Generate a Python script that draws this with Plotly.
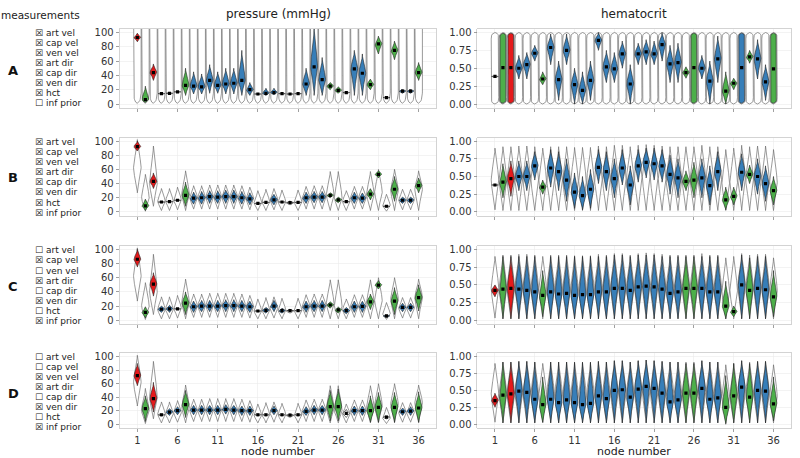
import numpy as np
import plotly.graph_objects as go

# ---------------- data ----------------
nodes = list(range(1, 37))
tick_nodes = [1, 6, 11, 16, 21, 26, 31, 36]
p_ticks = [0, 20, 40, 60, 80, 100]
h_ticks = [0.0, 0.25, 0.5, 0.75, 1.0]
h_tick_text = ["0.00", "0.25", "0.50", "0.75", "1.00"]

row_labels = ["A", "B", "C", "D"]
measure_names = ["art vel", "cap vel", "ven vel", "art dir", "cap dir", "ven dir", "hct", "inf prior"]
checks_A = [1, 1, 1, 1, 1, 1, 1, 0]
checks_B = [1, 1, 1, 1, 1, 1, 1, 1]
checks_C = [0, 1, 0, 1, 0, 1, 0, 1]
checks_D = [0, 0, 1, 1, 0, 1, 0, 1]

# colour code per node: R red, G green, B blue, W white
pA_col = "RGRWWWGBBBBBBBBWBBWWWBBBGGWBBGGWGBBG"
pB_col = "RGRWWWGBBBBBBBBWWBWWWBBBGGWBBGGWGBBG"
pC_col = "RGRBBWGBBBBBBBBWBBBWWBBBGGBBBGGBGBBG"
pD_col = "RGRWBBGBBBBBBBBWWBWWWBBBGGWBBGGWGBBG"
hA_col = "WGRBBBGBBBBBBBBBBBBBBBBBGGBBBGGBGBBG"
hB_col = "WGRBBBGBBBBBBBBBBBBBBBBBGGBBBGGBGBBG"
hC_col = "RGRBBBGBBBBBBBBBBBBBBBBBGGBBBGGBGBBG"
hD_col = "RGRBBBGBBBBBBBBBBBBBBBBBGGBBBGGBGBBG"

# pressure posteriors (median, lower, upper) in mmHg
pA_med = [93, 6, 44, 14.5, 15, 17, 26, 25, 24, 33, 26, 28, 29, 33, 20, 14, 15, 16, 14.5, 14, 14.5, 28, 52, 34, 25, 19, 16, 49, 43, 27, 84, 9, 75, 18, 18, 44]
pA_lo = [87, 2, 33, 13.5, 14, 16, 12, 14, 14, 15, 15, 14, 14, 12, 12, 13, 12, 13, 13.5, 13.5, 13.5, 12, 12, 12, 20, 15, 15, 12, 12, 20, 70, 8, 62, 15, 15, 33]
pA_hi = [99, 25, 56, 15.5, 16, 18, 50, 45, 42, 55, 45, 50, 50, 75, 30, 15, 22, 22, 15.5, 14.5, 15.5, 50, 110, 65, 30, 24, 17, 75, 70, 35, 95, 10, 88, 21, 21, 58]

pB_med = [92, 8.5, 43, 14, 14.5, 16.5, 23.5, 19.5, 20, 21.5, 21, 21.5, 21.5, 20, 18.5, 12, 13.5, 17, 14, 13, 13.5, 20, 21, 21, 23.5, 17, 14.5, 20, 19.5, 25, 53, 8, 32, 16.5, 16.5, 37]
pB_lo = [86, 2, 33, 13, 13.5, 15.5, 8, 11, 11, 12, 12, 12, 12, 11, 10, 11, 12.5, 10, 13, 12.5, 12.5, 12, 13, 13, 20, 13, 13.5, 12, 12, 17, 48, 7, 15, 12, 12, 27]
pB_hi = [100, 18, 55, 15, 15.5, 17.5, 42, 28, 29, 30, 30, 31, 31, 29, 27, 13, 14.5, 25, 15, 13.5, 14.5, 28, 29, 29, 27, 21, 15.5, 28, 27, 33, 58, 9, 50, 21, 21, 48]

pC_med = [86, 11, 51, 15.5, 16, 16, 24, 19, 20, 20, 20, 20.5, 20.5, 20, 19, 13, 14, 20, 13.5, 13.5, 13.5, 19, 20, 20, 21.5, 14.5, 13.5, 19, 19.5, 26, 49.5, 6, 27, 18, 18, 32]
pC_lo = [75, 3, 34, 11, 11, 15, 8, 11, 12, 12, 12, 12, 12, 12, 11, 12, 10, 12, 10, 13, 12.5, 11, 12, 12, 17, 10, 9, 11, 11, 15, 44, 4, 8, 12, 12, 13]
pC_hi = [100, 19, 67, 20, 21, 17, 40, 27, 28, 28, 28, 29, 29, 28, 27, 14, 18, 28, 17, 14, 14.5, 27, 28, 28, 26, 19, 18, 27, 27, 37, 56, 8, 46, 24, 24, 50]

pD_med = [72, 23, 38, 14, 18, 20, 29, 21, 21, 21, 21, 22, 21, 20, 20, 14, 14, 20, 14, 13.5, 14, 19, 21, 21, 26, 26, 16, 20, 20, 20, 25, 10.5, 25, 18.5, 19.5, 24]
pD_lo = [57, 4, 18, 12, 13, 14, 10, 14, 14, 14, 14, 15, 14, 13, 13, 12, 12, 14, 12, 13, 12, 13, 14, 14, 5, 5, 10, 13, 13, 3, 3, 8, 3, 13, 13, 3]
pD_hi = [90, 42, 62, 16, 23, 26, 50, 28, 28, 28, 28, 29, 28, 27, 27, 16, 16, 27, 16, 14, 16, 26, 28, 28, 50, 52, 22, 27, 27, 42, 47, 13, 47, 24, 26, 48]

# inferred pressure prior (rows B-D)
p_inf_med = [62, 20, 40, 15, 15, 17, 25, 20, 20, 21, 21, 21, 21, 20, 19, 13, 14, 17, 14, 13, 14, 20, 21, 21, 24, 20, 15, 20, 20, 25, 28, 9, 30, 17, 17, 32]
p_inf_lo = [27, 1, 8, 2, 2, 3, 2, 4, 4, 4, 4, 4, 4, 4, 3, 2, 2, 3, 2, 10, 2, 4, 4, 4, 2, 2, 2, 4, 4, 2, 2, 1, 2, 3, 3, 2]
p_inf_hi = [102, 53, 93, 33, 33, 35, 58, 37, 37, 38, 38, 38, 38, 37, 35, 30, 32, 33, 31, 16, 31, 36, 37, 37, 57, 57, 30, 36, 36, 57, 60, 25, 60, 32, 32, 58]
# uninformative pressure prior (row A): lower bound, upper bound
p_flat_prior = (1.0, 140.0)

# hematocrit posteriors
hA_med = [0.385, 0.51, 0.51, 0.50, 0.55, 0.71, 0.35, 0.79, 0.34, 0.75, 0.27, 0.19, 0.33, 0.89, 0.52, 0.49, 0.70, 0.28, 0.70, 0.73, 0.70, 0.83, 0.56, 0.58, 0.44, 0.51, 0.50, 0.32, 0.63, 0.18, 0.29, 0.51, 0.66, 0.63, 0.31, 0.49]
hA_lo = [0.375, 0.01, 0.01, 0.35, 0.35, 0.60, 0.27, 0.55, 0.05, 0.55, 0.00, 0.00, 0.05, 0.75, 0.30, 0.30, 0.50, 0.00, 0.55, 0.55, 0.55, 0.60, 0.30, 0.30, 0.36, 0.01, 0.35, 0.00, 0.30, 0.00, 0.20, 0.01, 0.57, 0.35, 0.05, 0.01]
hA_hi = [0.395, 0.99, 0.99, 0.68, 0.72, 0.82, 0.45, 0.98, 0.60, 0.98, 0.50, 0.45, 0.60, 1.00, 0.75, 0.72, 0.88, 0.55, 0.85, 0.90, 0.88, 1.00, 0.82, 0.85, 0.52, 0.99, 0.68, 0.60, 0.95, 0.45, 0.36, 0.99, 0.75, 0.90, 0.55, 0.99]
hA_unobserved = [2, 3, 26, 32, 36]

hB_med = [0.38, 0.42, 0.47, 0.50, 0.50, 0.65, 0.35, 0.62, 0.57, 0.45, 0.28, 0.23, 0.32, 0.63, 0.57, 0.47, 0.62, 0.38, 0.65, 0.70, 0.68, 0.65, 0.53, 0.48, 0.43, 0.45, 0.48, 0.37, 0.57, 0.17, 0.22, 0.56, 0.53, 0.50, 0.40, 0.30]
hB_lo = [0.37, 0.20, 0.22, 0.30, 0.30, 0.45, 0.25, 0.35, 0.30, 0.15, 0.05, 0.03, 0.05, 0.40, 0.30, 0.20, 0.38, 0.10, 0.42, 0.48, 0.45, 0.42, 0.25, 0.20, 0.30, 0.20, 0.20, 0.10, 0.30, 0.03, 0.10, 0.30, 0.40, 0.25, 0.15, 0.10]
hB_hi = [0.39, 0.68, 0.72, 0.72, 0.72, 0.85, 0.45, 0.88, 0.85, 0.75, 0.55, 0.50, 0.60, 0.88, 0.85, 0.75, 0.88, 0.65, 0.88, 0.90, 0.90, 0.88, 0.80, 0.75, 0.58, 0.70, 0.75, 0.65, 0.85, 0.35, 0.35, 0.82, 0.66, 0.75, 0.65, 0.50]

hC_med = [0.42, 0.44, 0.45, 0.44, 0.42, 0.40, 0.35, 0.40, 0.37, 0.38, 0.35, 0.36, 0.36, 0.40, 0.40, 0.45, 0.45, 0.42, 0.47, 0.48, 0.47, 0.44, 0.38, 0.40, 0.45, 0.45, 0.45, 0.40, 0.40, 0.20, 0.12, 0.50, 0.42, 0.45, 0.43, 0.33]
hC_lo = [0.33, 0.02, 0.02, 0.02, 0.02, 0.02, 0.05, 0.02, 0.02, 0.02, 0.02, 0.02, 0.02, 0.02, 0.02, 0.02, 0.02, 0.02, 0.02, 0.02, 0.02, 0.02, 0.02, 0.02, 0.02, 0.02, 0.02, 0.02, 0.02, 0.02, 0.05, 0.02, 0.02, 0.02, 0.02, 0.05]
hC_hi = [0.50, 0.90, 0.90, 0.90, 0.90, 0.90, 0.70, 0.90, 0.90, 0.90, 0.90, 0.90, 0.90, 0.90, 0.90, 0.92, 0.92, 0.90, 0.92, 0.92, 0.92, 0.90, 0.90, 0.90, 0.90, 0.90, 0.90, 0.90, 0.90, 0.55, 0.20, 0.92, 0.88, 0.90, 0.90, 0.70]

hD_med = [0.35, 0.43, 0.45, 0.49, 0.47, 0.37, 0.29, 0.37, 0.32, 0.36, 0.32, 0.29, 0.31, 0.42, 0.38, 0.50, 0.51, 0.40, 0.52, 0.56, 0.53, 0.46, 0.33, 0.36, 0.46, 0.46, 0.53, 0.37, 0.39, 0.25, 0.42, 0.55, 0.40, 0.50, 0.49, 0.30]
hD_lo = [0.25, 0.02, 0.02, 0.02, 0.02, 0.02, 0.03, 0.02, 0.02, 0.02, 0.02, 0.02, 0.02, 0.02, 0.02, 0.02, 0.02, 0.02, 0.02, 0.02, 0.02, 0.02, 0.02, 0.02, 0.02, 0.02, 0.02, 0.02, 0.02, 0.00, 0.02, 0.02, 0.02, 0.02, 0.02, 0.05]
hD_hi = [0.46, 0.92, 0.92, 0.93, 0.93, 0.92, 0.70, 0.92, 0.92, 0.92, 0.92, 0.92, 0.92, 0.93, 0.92, 0.94, 0.94, 0.92, 0.94, 0.95, 0.94, 0.93, 0.92, 0.92, 0.90, 0.90, 0.94, 0.92, 0.92, 0.72, 0.90, 0.94, 0.90, 0.93, 0.93, 0.70]

# inferred hematocrit prior (rows B-D)
h_inf_med = [0.45, 0.45, 0.45, 0.46, 0.46, 0.45, 0.44, 0.45, 0.44, 0.44, 0.43, 0.43, 0.43, 0.45, 0.45, 0.47, 0.47, 0.45, 0.48, 0.49, 0.48, 0.46, 0.44, 0.44, 0.46, 0.46, 0.47, 0.44, 0.45, 0.40, 0.42, 0.48, 0.45, 0.47, 0.46, 0.42]
h_inf_lo = [0.03, 0.02, 0.02, 0.02, 0.02, 0.02, 0.02, 0.02, 0.02, 0.02, 0.02, 0.02, 0.02, 0.02, 0.02, 0.02, 0.02, 0.02, 0.02, 0.02, 0.02, 0.02, 0.02, 0.02, 0.02, 0.02, 0.02, 0.02, 0.02, 0.02, 0.02, 0.02, 0.02, 0.02, 0.02, 0.02]
h_inf_hi = [0.90, 0.92, 0.92, 0.93, 0.93, 0.92, 0.90, 0.92, 0.92, 0.92, 0.91, 0.91, 0.91, 0.93, 0.92, 0.94, 0.94, 0.92, 0.94, 0.95, 0.94, 0.93, 0.92, 0.92, 0.92, 0.92, 0.94, 0.92, 0.92, 0.88, 0.90, 0.94, 0.92, 0.93, 0.93, 0.88]
h_flat_prior = (0.0, 1.0)

# ---------------- styling / geometry ----------------
FILL = {"R": "#e41a1c", "G": "#4daf4a", "B": "#377eb8", "W": "#ffffff"}
PRIOR_HW = 0.47
POST_HW = 0.42
FW, FH = 800, 458
X_RANGE = [-1.22, 38.2]
P_RANGE = [-6, 105]
H_RANGE = [-0.06, 1.05]
col_dom_px = [(119.5, 436.3), (477.3, 791.0)]
row_dom_px = [(27.1, 107.0), (136.4, 215.6), (245.4, 324.6), (353.6, 429.1)]
FONT = "DejaVu Sans"


def bell(x0, m, lo, hi, hw, k=3.2, n=40):
    lo = min(lo, m - 1e-6)
    hi = max(hi, m + 1e-6)
    ys = np.concatenate([np.linspace(lo, m, n, endpoint=False), np.linspace(m, hi, n)])
    u = np.where(ys < m, (ys - m) / (m - lo), (ys - m) / (hi - m))
    w = hw * (np.exp(-k * u ** 2) - np.exp(-k)) / (1 - np.exp(-k))
    xs = np.concatenate([x0 + w, (x0 - w)[::-1]])
    yy = np.concatenate([ys, ys[::-1]])
    return list(xs) + [None], list(yy) + [None]


def flat(x0, lo, hi, hw, t_lo, t_hi, n=80):
    ys = np.linspace(lo, hi, n)
    w = np.full(n, hw)
    b = ys < lo + t_lo
    w[b] = hw * np.sqrt(np.clip(1 - ((lo + t_lo - ys[b]) / t_lo) ** 2, 0, 1))
    t = ys > hi - t_hi
    w[t] = hw * np.sqrt(np.clip(1 - ((ys[t] - (hi - t_hi)) / t_hi) ** 2, 0, 1))
    xs = np.concatenate([x0 + w, (x0 - w)[::-1]])
    yy = np.concatenate([ys, ys[::-1]])
    return list(xs) + [None], list(yy) + [None]


fig = go.Figure()


def add_panel(idx, kind, col, med, lo, hi, prior, unobserved=()):
    xa = "x" if idx == 1 else f"x{idx}"
    ya = "y" if idx == 1 else f"y{idx}"
    px, py = [], []
    for i, n in enumerate(nodes):
        if prior is None:
            if kind == "p":
                a, b = flat(n, p_flat_prior[0], p_flat_prior[1], PRIOR_HW, 16, 1)
            else:
                a, b = flat(n, h_flat_prior[0], h_flat_prior[1], PRIOR_HW, 0.07, 0.07)
        else:
            pm, pl, ph = prior
            a, b = bell(n, pm[i], pl[i], ph[i], PRIOR_HW, k=2.6)
        px += a
        py += b
    fig.add_trace(go.Scatter(x=px, y=py, xaxis=xa, yaxis=ya, mode="lines", fill="toself",
                             fillcolor="white", line=dict(color="#6e6e6e", width=0.7),
                             hoverinfo="skip"))
    for c in "WBGR":
        qx, qy = [], []
        for i, n in enumerate(nodes):
            if col[i] != c:
                continue
            if n in unobserved:
                a, b = flat(n, lo[i], hi[i], POST_HW * 0.85, 0.04, 0.04)
            else:
                a, b = bell(n, med[i], lo[i], hi[i], POST_HW)
            qx += a
            qy += b
        if qx:
            fig.add_trace(go.Scatter(x=qx, y=qy, xaxis=xa, yaxis=ya, mode="lines", fill="toself",
                                     fillcolor=FILL[c], line=dict(color="#222222", width=0.6),
                                     hoverinfo="skip"))
    fig.add_trace(go.Scatter(x=nodes, y=med, xaxis=xa, yaxis=ya, mode="markers",
                             marker=dict(symbol="square", size=3.2, color="black"),
                             hoverinfo="skip"))


p_inf = (p_inf_med, p_inf_lo, p_inf_hi)
h_inf = (h_inf_med, h_inf_lo, h_inf_hi)
panels = [
    ("p", pA_col, pA_med, pA_lo, pA_hi, None, ()),
    ("h", hA_col, hA_med, hA_lo, hA_hi, None, hA_unobserved),
    ("p", pB_col, pB_med, pB_lo, pB_hi, p_inf, ()),
    ("h", hB_col, hB_med, hB_lo, hB_hi, h_inf, ()),
    ("p", pC_col, pC_med, pC_lo, pC_hi, p_inf, ()),
    ("h", hC_col, hC_med, hC_lo, hC_hi, h_inf, ()),
    ("p", pD_col, pD_med, pD_lo, pD_hi, p_inf, ()),
    ("h", hD_col, hD_med, hD_lo, hD_hi, h_inf, ()),
]
for k, (kind, col, med, lo, hi, prior, unob) in enumerate(panels):
    add_panel(k + 1, kind, col, med, lo, hi, prior, unob)

layout = dict(width=FW, height=FH, margin=dict(l=0, r=0, t=0, b=0),
              paper_bgcolor="white", plot_bgcolor="white", showlegend=False,
              font=dict(family=FONT, color="#333333"))
for k in range(8):
    r, c = divmod(k, 2)
    sfx = "" if k == 0 else str(k + 1)
    x0, x1 = col_dom_px[c]
    t, b = row_dom_px[r]
    layout["xaxis" + sfx] = dict(
        domain=[x0 / FW, x1 / FW], range=X_RANGE, anchor="y" + sfx,
        tickvals=tick_nodes, ticktext=[str(v) for v in tick_nodes] if r == 3 else [""] * 8,
        showgrid=True, gridcolor="#ebebeb", gridwidth=0.6, zeroline=False,
        showline=True, mirror=True, linecolor="#c8c8c8", linewidth=0.8,
        ticks="outside", ticklen=3, tickcolor="#888888", tickwidth=0.8,
        tickfont=dict(size=10, color="#333333"))
    yd = dict(domain=[1 - b / FH, 1 - t / FH], anchor="x" + sfx,
              showgrid=True, gridcolor="#ebebeb", gridwidth=0.6, zeroline=False,
              showline=True, mirror=True, linecolor="#c8c8c8", linewidth=0.8,
              ticks="outside", ticklen=3, tickcolor="#888888", tickwidth=0.8,
              tickfont=dict(size=10, color="#333333"))
    if c == 0:
        yd.update(range=P_RANGE, tickvals=p_ticks, ticktext=[str(v) for v in p_ticks])
    else:
        yd.update(range=H_RANGE, tickvals=h_ticks, ticktext=h_tick_text)
    layout["yaxis" + sfx] = yd


def txt(text, xpx, ypx, size, color="#222222", xanchor="center"):
    return dict(text=text, x=xpx / FW, y=1 - ypx / FH, xref="paper", yref="paper",
                xanchor=xanchor, yanchor="middle", showarrow=False, borderpad=0,
                font=dict(size=size, color=color, family=FONT))


ann = [
    txt("pressure (mmHg)", 278, 12, 12),
    txt("hematocrit", 634, 12, 12),
    txt("measurements", 40, 13, 10.5),
    txt("node number", 278, 452, 11),
    txt("node number", 634, 452, 11),
]
label_y = [69, 177, 286, 394]
list_span = [(31, 102), (141, 212), (250, 321), (357, 428)]
all_checks = [checks_A, checks_B, checks_C, checks_D]
for r in range(4):
    ann.append(txt("<b>%s</b>" % row_labels[r], 13, label_y[r], 13, "#111111"))
    y0, y1 = list_span[r]
    step = (y1 - y0) / 7
    for j, name in enumerate(measure_names):
        box = "\u2612" if all_checks[r][j] else "\u2610"
        ann.append(txt(box + " " + name, 34, y0 + j * step, 9, "#222222", xanchor="left"))
layout["annotations"] = ann
fig.update_layout(**layout)
fig.write_html("out.html", config={"displayModeBar": False, "staticPlot": True},
               post_script="document.body.style.margin='0px';document.body.style.overflow='hidden';")
